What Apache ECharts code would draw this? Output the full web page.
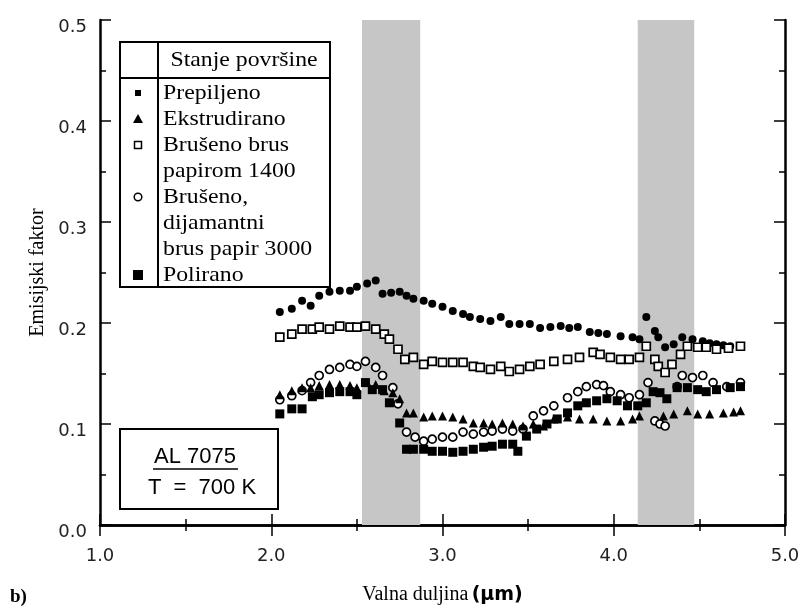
<!DOCTYPE html>
<html>
<head>
<meta charset="utf-8">
<title>Emisijski faktor - AL 7075</title>
<script src="https://cdn.jsdelivr.net/npm/echarts@6/dist/echarts.min.js"></script>
<style>
    html, body { margin: 0; padding: 0; background: #fff; }
    #main { width: 805px; height: 609px; }
</style>
</head>
<body>
<div id="main"></div>
<script>
// axis ticks
const xTicks = [1.0, 2.0, 3.0, 4.0, 5.0];
const yTicks = [0.0, 0.1, 0.2, 0.3, 0.4, 0.5];

// shaded absorption bands (µm)
const bands = [[2.53, 2.87], [4.14, 4.47]];

// series: [wavelength µm, emissivity]
const prepiljeno = [
    [2.05, 0.211], [2.12, 0.214], [2.18, 0.222], [2.23, 0.217], [2.28, 0.227], [2.34, 0.231],
    [2.40, 0.232], [2.46, 0.232], [2.50, 0.236], [2.56, 0.239], [2.61, 0.242], [2.65, 0.229],
    [2.70, 0.230], [2.75, 0.231], [2.79, 0.227], [2.83, 0.224], [2.89, 0.222], [2.94, 0.219],
    [3.00, 0.216], [3.06, 0.212], [3.12, 0.209], [3.16, 0.206], [3.22, 0.204], [3.28, 0.202],
    [3.34, 0.206], [3.39, 0.199], [3.45, 0.199], [3.51, 0.199], [3.57, 0.195], [3.63, 0.196],
    [3.69, 0.197], [3.74, 0.195], [3.79, 0.196], [3.86, 0.191], [3.91, 0.190], [3.96, 0.189],
    [4.04, 0.187], [4.11, 0.186], [4.15, 0.184], [4.19, 0.206], [4.24, 0.192], [4.26, 0.186],
    [4.30, 0.176], [4.35, 0.179], [4.40, 0.186], [4.46, 0.184], [4.52, 0.182], [4.56, 0.180],
    [4.60, 0.179], [4.64, 0.178], [4.68, 0.177], [4.74, 0.177]
];
const ekstrudirano = [
    [2.05, 0.129], [2.12, 0.133], [2.18, 0.136], [2.23, 0.136], [2.28, 0.138], [2.34, 0.139],
    [2.40, 0.139], [2.46, 0.138], [2.50, 0.136], [2.56, 0.141], [2.61, 0.139], [2.66, 0.133],
    [2.71, 0.131], [2.75, 0.125], [2.79, 0.111], [2.83, 0.111], [2.89, 0.107], [2.94, 0.108],
    [3.00, 0.108], [3.06, 0.107], [3.12, 0.105], [3.18, 0.101], [3.24, 0.101], [3.29, 0.100],
    [3.35, 0.101], [3.41, 0.100], [3.47, 0.098], [3.53, 0.100], [3.59, 0.098], [3.65, 0.105],
    [3.73, 0.107], [3.80, 0.105], [3.88, 0.105], [3.96, 0.103], [4.04, 0.103], [4.11, 0.105],
    [4.15, 0.108], [4.29, 0.108], [4.35, 0.110], [4.43, 0.113], [4.49, 0.110], [4.56, 0.110],
    [4.64, 0.111], [4.70, 0.112], [4.74, 0.113]
];
const brusPapir1400 = [
    [2.05, 0.186], [2.12, 0.189], [2.18, 0.194], [2.24, 0.194], [2.28, 0.196], [2.34, 0.194],
    [2.40, 0.197], [2.46, 0.196], [2.50, 0.196], [2.55, 0.197], [2.61, 0.194], [2.66, 0.189],
    [2.69, 0.184], [2.74, 0.174], [2.78, 0.164], [2.83, 0.166], [2.89, 0.159], [2.94, 0.162],
    [3.00, 0.161], [3.06, 0.161], [3.12, 0.161], [3.18, 0.157], [3.22, 0.156], [3.28, 0.154],
    [3.34, 0.157], [3.39, 0.152], [3.45, 0.154], [3.51, 0.157], [3.57, 0.159], [3.65, 0.162],
    [3.73, 0.164], [3.80, 0.166], [3.88, 0.171], [3.92, 0.169], [3.98, 0.166], [4.04, 0.164],
    [4.09, 0.164], [4.15, 0.166], [4.19, 0.177], [4.24, 0.164], [4.26, 0.157], [4.30, 0.151],
    [4.34, 0.159], [4.39, 0.169], [4.43, 0.177], [4.49, 0.176], [4.54, 0.176], [4.60, 0.174],
    [4.67, 0.175], [4.74, 0.177]
];
const dijamantni3000 = [
    [2.05, 0.124], [2.12, 0.128], [2.18, 0.133], [2.23, 0.141], [2.28, 0.148], [2.34, 0.154],
    [2.40, 0.156], [2.46, 0.159], [2.50, 0.157], [2.55, 0.162], [2.61, 0.156], [2.65, 0.148],
    [2.71, 0.136], [2.74, 0.120], [2.79, 0.092], [2.84, 0.087], [2.89, 0.083], [2.94, 0.085],
    [3.00, 0.087], [3.06, 0.087], [3.12, 0.092], [3.18, 0.090], [3.24, 0.092], [3.29, 0.093],
    [3.35, 0.095], [3.41, 0.093], [3.47, 0.095], [3.53, 0.108], [3.59, 0.113], [3.65, 0.118],
    [3.73, 0.126], [3.79, 0.132], [3.84, 0.137], [3.90, 0.139], [3.94, 0.138], [3.98, 0.132],
    [4.04, 0.129], [4.09, 0.126], [4.15, 0.129], [4.20, 0.141], [4.24, 0.103], [4.27, 0.100],
    [4.30, 0.098], [4.37, 0.137], [4.40, 0.148], [4.46, 0.146], [4.52, 0.148], [4.58, 0.141],
    [4.66, 0.137], [4.74, 0.141]
];
const polirano = [
    [2.05, 0.110], [2.12, 0.115], [2.18, 0.115], [2.24, 0.127], [2.28, 0.129], [2.34, 0.131],
    [2.40, 0.132], [2.46, 0.132], [2.50, 0.129], [2.55, 0.141], [2.59, 0.134], [2.65, 0.134],
    [2.69, 0.121], [2.75, 0.101], [2.79, 0.075], [2.83, 0.075], [2.89, 0.075], [2.94, 0.073],
    [3.00, 0.073], [3.06, 0.072], [3.12, 0.073], [3.18, 0.075], [3.24, 0.077], [3.29, 0.078],
    [3.35, 0.080], [3.41, 0.080], [3.44, 0.073], [3.49, 0.088], [3.55, 0.095], [3.61, 0.100],
    [3.67, 0.105], [3.73, 0.111], [3.79, 0.118], [3.84, 0.121], [3.90, 0.123], [3.96, 0.125],
    [4.02, 0.123], [4.08, 0.118], [4.14, 0.118], [4.19, 0.121], [4.23, 0.132], [4.27, 0.131],
    [4.31, 0.125], [4.37, 0.136], [4.43, 0.136], [4.49, 0.134], [4.54, 0.132], [4.60, 0.134],
    [4.68, 0.136], [4.74, 0.137]
];

// legend rows: symbol, text lines
const legendRows = [
    { symbol: 'dot', lines: ['Prepiljeno'] },
    { symbol: 'triangle', lines: ['Ekstrudirano'] },
    { symbol: 'openSquare', lines: ['Brušeno brus', 'papirom 1400'] },
    { symbol: 'openCircle', lines: ['Brušeno,', 'dijamantni', 'brus papir 3000'] },
    { symbol: 'square', lines: ['Polirano'] }
];

const serif = '"Liberation Serif", "Times New Roman", serif';
const sans = '"DejaVu Sans", sans-serif';

function buildLegend() {
    const els = [];
    const left = 120, right = 330, top = 42, bottom = 287, headBottom = 78, divX = 158;
    els.push({ type: 'rect', shape: { x: left, y: top, width: right - left, height: bottom - top },
        style: { fill: '#fff', stroke: '#000', lineWidth: 2 }, z: 100 });
    els.push({ type: 'line', shape: { x1: left, y1: headBottom, x2: right, y2: headBottom },
        style: { stroke: '#000', lineWidth: 2 }, z: 101 });
    els.push({ type: 'line', shape: { x1: divX, y1: top, x2: divX, y2: bottom },
        style: { stroke: '#000', lineWidth: 2 }, z: 101 });
    els.push({ type: 'text', x: 244, y: 60, z: 102, scaleX: 1.08,
        style: { text: 'Stanje površine', font: '22px ' + serif, fill: '#000', align: 'center', verticalAlign: 'middle' } });

    let y = 93;
    legendRows.forEach(row => {
        const cx = 138;
        if (row.symbol === 'dot') {
            els.push({ type: 'rect', shape: { x: cx - 3, y: y - 3, width: 6, height: 6 }, style: { fill: '#000' }, z: 102 });
        } else if (row.symbol === 'triangle') {
            els.push({ type: 'polygon', shape: { points: [[cx, y - 5], [cx - 5, y + 4], [cx + 5, y + 4]] }, style: { fill: '#000' }, z: 102 });
        } else if (row.symbol === 'openSquare') {
            els.push({ type: 'rect', shape: { x: cx - 3.5, y: y - 3.5, width: 7, height: 7 }, style: { fill: '#fff', stroke: '#000', lineWidth: 1.5 }, z: 102 });
        } else if (row.symbol === 'openCircle') {
            els.push({ type: 'circle', shape: { cx: cx, cy: y, r: 3.8 }, style: { fill: '#fff', stroke: '#000', lineWidth: 1.5 }, z: 102 });
        } else {
            els.push({ type: 'rect', shape: { x: cx - 5, y: y - 5, width: 10, height: 10 }, style: { fill: '#000' }, z: 102 });
        }
        row.lines.forEach(line => {
            els.push({ type: 'text', x: 163, y: y, z: 102, scaleX: 1.08,
                style: { text: line, font: '22px ' + serif, fill: '#000', verticalAlign: 'middle' } });
            y += 26;
        });
    });
    return els;
}

function buildInfoBox() {
    return [
        { type: 'rect', shape: { x: 120, y: 429, width: 158, height: 80 },
            style: { fill: '#fff', stroke: '#000', lineWidth: 2 }, z: 100 },
        { type: 'text', x: 195, y: 457, z: 101,
            style: { text: 'AL 7075', font: '22px "Liberation Sans", Arial, sans-serif', fill: '#000', align: 'center', verticalAlign: 'middle' } },
        { type: 'line', shape: { x1: 153, y1: 469, x2: 238, y2: 469 }, style: { stroke: '#000', lineWidth: 1.5 }, z: 101 },
        { type: 'text', x: 202, y: 488, z: 101,
            style: { text: 'T  =  700 K', font: '22px "Liberation Sans", Arial, sans-serif', fill: '#000', align: 'center', verticalAlign: 'middle' } },
        { type: 'text', x: 10, y: 597, z: 101,
            style: { text: 'b)', font: 'bold 19px ' + serif, fill: '#000', verticalAlign: 'middle' } }
    ];
}

function frameAxis(extra) {
    return Object.assign({
        type: 'value',
        axisLine: { show: true, lineStyle: { color: '#000', width: 2.5 } },
        axisTick: { show: true, inside: true, length: 11, lineStyle: { color: '#000', width: 1.5 } },
        minorTick: { show: true, splitNumber: 2, length: 6, lineStyle: { color: '#000', width: 1.5 } },
        splitLine: { show: false },
        axisLabel: { show: false }
    }, extra);
}

function scatter(name, data, symbol, size, filled) {
    return {
        name: name,
        type: 'scatter',
        data: data,
        symbol: symbol,
        symbolSize: size,
        z: 5,
        itemStyle: filled
            ? { color: '#000', opacity: 1 }
            : { color: '#fff', borderColor: '#000', borderWidth: 1.7, opacity: 1 },
        silent: true
    };
}

document.addEventListener('DOMContentLoaded', function () {
    const myChart = echarts.init(document.getElementById('main'), null, { renderer: 'canvas' });

    const option = {
        animation: false,
        backgroundColor: '#fff',
        grid: { left: 100, right: 20, top: 20, bottom: 84, outerBoundsMode: 'none', containLabel: false },
        xAxis: [
            frameAxis({
                position: 'bottom', min: xTicks[0], max: xTicks[xTicks.length - 1], interval: 1,
                name: '{a|Valna duljina} {b|(µm)}', nameLocation: 'middle', nameGap: 60,
                nameTextStyle: {
                    rich: {
                        a: { fontFamily: serif, fontSize: 20, color: '#000' },
                        b: { fontFamily: sans, fontSize: 19, fontWeight: 'bold', color: '#000' }
                    }
                },
                axisLabel: { show: true, margin: 22, fontFamily: sans, fontSize: 18, color: '#222',
                    formatter: v => v.toFixed(1) }
            }),
            frameAxis({ position: 'top', min: xTicks[0], max: xTicks[xTicks.length - 1], interval: 1 })
        ],
        yAxis: [
            frameAxis({
                position: 'left', min: yTicks[0], max: yTicks[yTicks.length - 1], interval: 0.1,
                name: 'Emisijski faktor', nameLocation: 'middle', nameGap: 52,
                nameTextStyle: { fontFamily: serif, fontSize: 20, color: '#000' },
                axisLabel: { show: true, margin: 13, color: '#222',
                    formatter: v => '{t|' + v.toFixed(1) + '}',
                    rich: { t: { fontFamily: sans, fontSize: 18, color: '#222', padding: [14, 0, 0, 0] } } }
            }),
            frameAxis({ position: 'right', min: yTicks[0], max: yTicks[yTicks.length - 1], interval: 0.1 })
        ],
        series: [
            {
                name: 'bands',
                type: 'scatter',
                data: [],
                silent: true,
                z: 1,
                markArea: {
                    silent: true,
                    itemStyle: { color: '#c6c6c6' },
                    data: bands.map(b => [{ xAxis: b[0] }, { xAxis: b[1] }])
                }
            },
            scatter('Prepiljeno', prepiljeno, 'circle', 8, true),
            scatter('Brušeno brus papirom 1400', brusPapir1400, 'rect', 8, false),
            scatter('Brušeno, dijamantni brus papir 3000', dijamantni3000, 'circle', 8, false),
            scatter('Ekstrudirano', ekstrudirano, 'triangle', 9, true),
            scatter('Polirano', polirano, 'rect', 9, true)
        ],
        graphic: buildLegend().concat(buildInfoBox())
    };

    myChart.setOption(option);
});
</script>
</body>
</html>
